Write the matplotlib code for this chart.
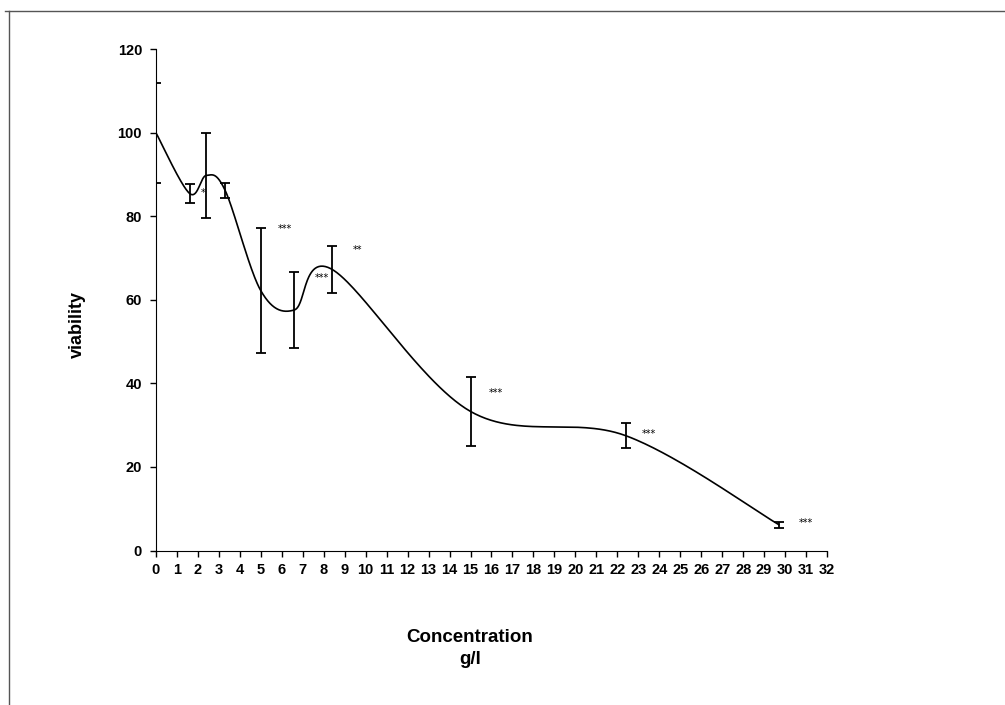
import numpy as np
import matplotlib.pyplot as plt
from matplotlib.lines import Line2D

plt.rcParams['font.family'] = ['Liberation Sans', 'DejaVu Sans']

conc = [0, 1.6, 2.4, 3.3, 5, 6.6, 8.4, 15, 22.4, 29.7]
viability = [100, 85.5, 89.8, 86.2, 62.2, 57.6, 67.3, 33.3, 27.5, 6.2]
err = [12, 2.3, 10.2, 1.9, 15, 9.1, 5.7, 8.3, 3.0, 0.7]

# significance marks (text, x, y)
stars = ['*', '***', '***', '**', '***', '***', '***']
star_x = [2.25, 6.15, 7.9, 9.6, 16.2, 23.5, 31.0]
star_y = [85.5, 77.0, 65.2, 72.0, 37.6, 27.9, 6.5]


def smooth(x, y, n=60):
    # Excel-like smoothed line: cubic bezier through the points
    p = np.column_stack([x, y]).astype(float)
    pp = np.vstack([p[0], p, p[-1]])
    out = []
    t = np.linspace(0, 1, n)[:, None]
    for i in range(len(p) - 1):
        a, b = pp[i + 1], pp[i + 2]
        c1 = a + (pp[i + 2] - pp[i]) / 6
        c2 = b - (pp[i + 3] - pp[i + 1]) / 6
        seg = (1 - t) ** 3 * a + 3 * (1 - t) ** 2 * t * c1 + 3 * (1 - t) * t ** 2 * c2 + t ** 3 * b
        out.append(seg)
    s = np.vstack(out)
    return s[:, 0], s[:, 1]


fig = plt.figure(figsize=(10.05, 7.05), dpi=100)
ax = fig.add_axes([0.1552, 0.2191, 0.6677, 0.711])

sx, sy = smooth(conc, viability)
ax.plot(sx, sy, color='black', lw=1.2)
ax.errorbar(conc, viability, yerr=err, fmt='none', ecolor='black', elinewidth=1.3,
            capsize=3.5, capthick=1.3)

for s, x, y in zip(stars, star_x, star_y):
    ax.text(x, y, s, fontsize=7, ha='center', va='center', family='DejaVu Sans')

ax.set_xlim(0, 32)
ax.set_ylim(0, 120)
ax.set_xticks(range(0, 33))
ax.set_yticks(range(0, 121, 20))
ax.tick_params(axis='both', labelsize=10.5, length=4, width=1, direction='out')
ax.tick_params(axis='x', pad=5)
ax.tick_params(axis='y', pad=6)
for lab in ax.get_xticklabels() + ax.get_yticklabels():
    lab.set_fontweight('bold')
ax.spines['top'].set_visible(False)
ax.spines['right'].set_visible(False)

fig.text(77 / 1005, 1 - 325 / 705, 'viability', rotation=90, ha='center', va='center',
         fontsize=13, fontweight='bold')
fig.text(470 / 1005, 1 - 637 / 705, 'Concentration', ha='center', va='center',
         fontsize=13.5, fontweight='bold')
fig.text(470 / 1005, 1 - 660 / 705, 'g/l', ha='center', va='center',
         fontsize=13.5, fontweight='bold')

# outer frame lines
fig.add_artist(Line2D([5 / 1005, 1], [1 - 11 / 705] * 2, color='#555555', lw=1))
fig.add_artist(Line2D([9 / 1005] * 2, [1 - 11 / 705, 0], color='#555555', lw=1))

fig.savefig('out.png', dpi=100)
